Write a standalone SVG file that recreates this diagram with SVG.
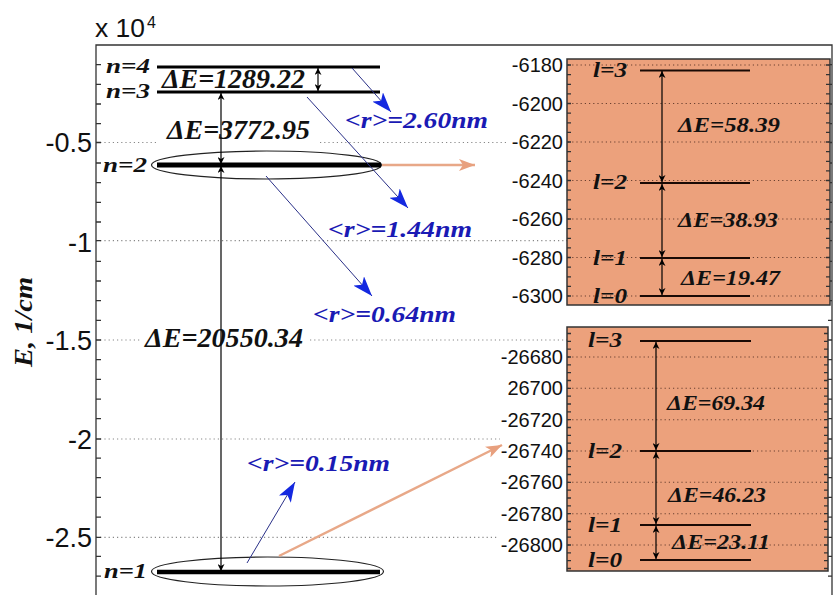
<svg xmlns="http://www.w3.org/2000/svg" width="833" height="595" viewBox="0 0 833 595">
<style>
.ax{fill:none;stroke:#333;stroke-width:1.3}
.grid{fill:none;stroke:#888;stroke-width:1.2;stroke-dasharray:1.2 3}
.igrid{fill:none;stroke:#6a4030;stroke-width:1.1;stroke-dasharray:1.2 3}
.tick{font-family:"Liberation Sans",Arial,sans-serif;fill:#111}
.lab{font-family:"Liberation Serif","Times New Roman",serif;font-style:italic;font-weight:bold;fill:#111}
.blab{font-family:"Liberation Serif","Times New Roman",serif;font-style:italic;font-weight:bold;fill:#1a1ab4}
.lvl{stroke:#000;fill:none}
.ilvl{stroke:#1a0a05;stroke-width:2;fill:none}
.dea{stroke:#000;stroke-width:1.2;fill:none;marker-start:url(#ah);marker-end:url(#ah)}
.blue{stroke:#2a3088;stroke-width:1;fill:none;marker-end:url(#bh)}
.sal{stroke:#e8a888;stroke-width:2.5;fill:none;marker-end:url(#sh)}
.ell{fill:none;stroke:#222;stroke-width:1.2}
.ibox{fill:#eca17c;stroke:#333;stroke-width:1.5}
</style>
<defs>
<marker id="ah" viewBox="0 0 10 10" refX="10" refY="5" markerWidth="8" markerHeight="7" markerUnits="userSpaceOnUse" orient="auto-start-reverse"><path d="M0,0 L10,5 L0,10 L3,5 z" fill="#000"/></marker>
<marker id="bh" viewBox="0 0 20 14" refX="20" refY="7" markerWidth="20" markerHeight="14" markerUnits="userSpaceOnUse" orient="auto"><path d="M0,0 L20,7 L0,14 L5,7 z" fill="#1428e0"/></marker>
<marker id="sh" viewBox="0 0 16 12" refX="16" refY="6" markerWidth="16" markerHeight="12" markerUnits="userSpaceOnUse" orient="auto"><path d="M0,0 L16,6 L0,12 L4,6 z" fill="#e8a07e"/></marker>
</defs>
<rect width="833" height="595" fill="#fff"/>

<g id="grid">
<path class="grid" d="M96,142.5H157M320,142.5H508M96,240.7H567M96,340H140M310,340H567M96,439H500M96,537.3H497"/>
</g>

<g id="axes">
<path class="ax" d="M96,595V45H832V595"/>
<path class="ax" d="M96,64.7h5M96,84.3h5M96,104h5M96,123.7h5M96,142.5h5M96,163h5M96,182.7h5M96,202.4h5M96,222h5M96,240.7h5M96,261.4h5M96,281h5M96,300.7h5M96,320.4h5M96,340h5M96,359.7h5M96,379.4h5M96,399.1h5M96,418.7h5M96,439h5M96,458.1h5M96,477.7h5M96,497.4h5M96,517.1h5M96,537.3h5M96,556.4h5M96,576.1h5"/>
<path class="ax" d="M832,64.7h-4M832,84.3h-4M832,104h-4M832,123.7h-4M832,142.5h-4M832,163h-4M832,182.7h-4M832,202.4h-4M832,222h-4M832,240.7h-4M832,261.4h-4M832,281h-4M832,300.7h-4M832,320.4h-4M832,340h-4M832,359.7h-4M832,379.4h-4M832,399.1h-4M832,418.7h-4M832,439h-4M832,458.1h-4M832,477.7h-4M832,497.4h-4M832,517.1h-4M832,537.3h-4M832,556.4h-4M832,576.1h-4"/>
<text class="tick" x="95" y="37" font-size="25" textLength="50" lengthAdjust="spacingAndGlyphs">x 10</text>
<text class="tick" x="147" y="28" font-size="16">4</text>
<g class="tick" font-size="27" text-anchor="end">
<text x="92" y="152">-0.5</text>
<text x="92" y="252">-1</text>
<text x="92" y="350">-1.5</text>
<text x="92" y="449">-2</text>
<text x="92" y="547">-2.5</text>
</g>
<text class="lab" font-size="25" text-anchor="middle" transform="translate(32,322) rotate(-90)" textLength="90" lengthAdjust="spacingAndGlyphs">E, 1/cm</text>
</g>

<g id="level-n4">
<path class="lvl" stroke-width="3" d="M157,67H380"/>
<text class="lab" x="106" y="73" font-size="22" textLength="44" lengthAdjust="spacingAndGlyphs">n=4</text>
</g>
<g id="level-n3">
<path class="lvl" stroke-width="3" d="M157,92H380"/>
<text class="lab" x="106" y="98" font-size="22" textLength="44" lengthAdjust="spacingAndGlyphs">n=3</text>
</g>
<g id="level-n2">
<ellipse class="ell" cx="266.5" cy="165" rx="115" ry="14"/>
<path class="lvl" stroke-width="5" d="M157,165H381"/>
<text class="lab" x="103" y="172" font-size="22" textLength="44" lengthAdjust="spacingAndGlyphs">n=2</text>
</g>
<g id="level-n1">
<ellipse class="ell" cx="267.5" cy="571.5" rx="116" ry="14.5"/>
<path class="lvl" stroke-width="4.5" d="M157,572H380"/>
<text class="lab" x="104" y="578" font-size="22" textLength="43" lengthAdjust="spacingAndGlyphs">n=1</text>
</g>

<g id="connectors">
<path class="dea" d="M318,68V91"/>
<path class="dea" d="M221,93V164"/>
<path class="dea" d="M221,166V571"/>
<path class="blue" d="M352,68L391,112"/>
<path class="blue" d="M307,97L408,208"/>
<path class="blue" d="M266,176L372,296"/>
<path class="blue" d="M247,563L295,482"/>
<path class="sal" d="M382,165H475"/>
<path class="sal" d="M279,556L502,445"/>
</g>

<g id="labels">
<text class="lab" x="162" y="88" font-size="27" textLength="143" lengthAdjust="spacingAndGlyphs">ΔE=1289.22</text>
<text class="lab" x="167" y="139" font-size="27" textLength="143" lengthAdjust="spacingAndGlyphs">ΔE=3772.95</text>
<text class="lab" x="145" y="347" font-size="28" textLength="158" lengthAdjust="spacingAndGlyphs">ΔE=20550.34</text>
<text class="blab" x="345" y="128" font-size="24" textLength="143" lengthAdjust="spacingAndGlyphs">&lt;r&gt;=2.60nm</text>
<text class="blab" x="328" y="237" font-size="24" textLength="144" lengthAdjust="spacingAndGlyphs">&lt;r&gt;=1.44nm</text>
<text class="blab" x="313" y="322" font-size="24" textLength="143" lengthAdjust="spacingAndGlyphs">&lt;r&gt;=0.64nm</text>
<text class="blab" x="247" y="471" font-size="24" textLength="143" lengthAdjust="spacingAndGlyphs">&lt;r&gt;=0.15nm</text>
</g>

<g id="inset-top">
<rect class="ibox" x="567" y="59" width="263" height="246"/>
<path class="igrid" d="M568,65H829M568,103.5H829M568,142H829M568,180.5H829M568,219H829M568,257.5H829M568,296H829"/>
<path class="ax" d="M567,65h4M567,74.6h4M567,84.3h4M567,93.9h4M567,103.5h4M567,113.1h4M567,122.8h4M567,132.4h4M567,142h4M567,151.6h4M567,161.3h4M567,170.9h4M567,180.5h4M567,190.1h4M567,199.8h4M567,209.4h4M567,219h4M567,228.6h4M567,238.3h4M567,247.9h4M567,257.5h4M567,267.1h4M567,276.8h4M567,286.4h4M567,296h4M830,65h-4M830,74.6h-4M830,84.3h-4M830,93.9h-4M830,103.5h-4M830,113.1h-4M830,122.8h-4M830,132.4h-4M830,142h-4M830,151.6h-4M830,161.3h-4M830,170.9h-4M830,180.5h-4M830,190.1h-4M830,199.8h-4M830,209.4h-4M830,219h-4M830,228.6h-4M830,238.3h-4M830,247.9h-4M830,257.5h-4M830,267.1h-4M830,276.8h-4M830,286.4h-4M830,296h-4"/>
<g class="tick" font-size="20" text-anchor="end">
<text x="563" y="72">-6180</text>
<text x="563" y="110.5">-6200</text>
<text x="563" y="149">-6220</text>
<text x="563" y="187.5">-6240</text>
<text x="563" y="226">-6260</text>
<text x="563" y="264.5">-6280</text>
<text x="563" y="303">-6300</text>
</g>
<path class="ilvl" d="M640,70.5H750M640,183H750M640,258H750M640,296H750"/>
<path class="dea" d="M662,71V182"/>
<path class="dea" d="M662,184V257"/>
<path class="dea" d="M662,259V295"/>
<text class="lab" x="593" y="77" font-size="20" textLength="34" lengthAdjust="spacingAndGlyphs">l=3</text>
<text class="lab" x="593" y="189" font-size="20" textLength="34" lengthAdjust="spacingAndGlyphs">l=2</text>
<text class="lab" x="593" y="265" font-size="20" textLength="34" lengthAdjust="spacingAndGlyphs">l=1</text>
<text class="lab" x="593" y="303" font-size="20" textLength="34" lengthAdjust="spacingAndGlyphs">l=0</text>
<text class="lab" x="678" y="132" font-size="21" textLength="102" lengthAdjust="spacingAndGlyphs">ΔE=58.39</text>
<text class="lab" x="678" y="227" font-size="21" textLength="100" lengthAdjust="spacingAndGlyphs">ΔE=38.93</text>
<text class="lab" x="681" y="285" font-size="21" textLength="99" lengthAdjust="spacingAndGlyphs">ΔE=19.47</text>
</g>

<g id="inset-bottom">
<rect class="ibox" x="567" y="327" width="261" height="244"/>
<path class="igrid" d="M568,357H827M568,388.3H827M568,419.7H827M568,451H827M568,482.3H827M568,513.7H827M568,545H827"/>
<path class="ax" d="M567,333.5h4M567,341.3h4M567,349.2h4M567,357h4M567,364.8h4M567,372.7h4M567,380.5h4M567,388.3h4M567,396.2h4M567,404h4M567,411.8h4M567,419.7h4M567,427.5h4M567,435.3h4M567,443.2h4M567,451h4M567,458.8h4M567,466.7h4M567,474.5h4M567,482.3h4M567,490.2h4M567,498h4M567,505.8h4M567,513.7h4M567,521.5h4M567,529.3h4M567,537.2h4M567,545h4M567,552.8h4M567,560.7h4M567,568.5h4M828,333.5h-4M828,341.3h-4M828,349.2h-4M828,357h-4M828,364.8h-4M828,372.7h-4M828,380.5h-4M828,388.3h-4M828,396.2h-4M828,404h-4M828,411.8h-4M828,419.7h-4M828,427.5h-4M828,435.3h-4M828,443.2h-4M828,451h-4M828,458.8h-4M828,466.7h-4M828,474.5h-4M828,482.3h-4M828,490.2h-4M828,498h-4M828,505.8h-4M828,513.7h-4M828,521.5h-4M828,529.3h-4M828,537.2h-4M828,545h-4M828,552.8h-4M828,560.7h-4M828,568.5h-4"/>
<g class="tick" font-size="20" text-anchor="end">
<text x="563" y="364">-26680</text>
<text x="563" y="395.3">26700</text>
<text x="563" y="426.7">-26720</text>
<text x="563" y="458">-26740</text>
<text x="563" y="489.3">-26760</text>
<text x="563" y="520.7">-26780</text>
<text x="563" y="552">-26800</text>
</g>
<path class="ilvl" d="M640,341H751M640,451H751M640,525H751M640,560H751"/>
<path class="dea" d="M656,342V450"/>
<path class="dea" d="M656,452V524"/>
<path class="dea" d="M656,526V559"/>
<text class="lab" x="588" y="347" font-size="20" textLength="34" lengthAdjust="spacingAndGlyphs">l=3</text>
<text class="lab" x="588" y="458" font-size="20" textLength="34" lengthAdjust="spacingAndGlyphs">l=2</text>
<text class="lab" x="588" y="532" font-size="20" textLength="34" lengthAdjust="spacingAndGlyphs">l=1</text>
<text class="lab" x="588" y="567" font-size="20" textLength="34" lengthAdjust="spacingAndGlyphs">l=0</text>
<text class="lab" x="667" y="410" font-size="21" textLength="98" lengthAdjust="spacingAndGlyphs">ΔE=69.34</text>
<text class="lab" x="668" y="502" font-size="21" textLength="98" lengthAdjust="spacingAndGlyphs">ΔE=46.23</text>
<text class="lab" x="672" y="549" font-size="21" textLength="98" lengthAdjust="spacingAndGlyphs">ΔE=23.11</text>
</g>
</svg>
